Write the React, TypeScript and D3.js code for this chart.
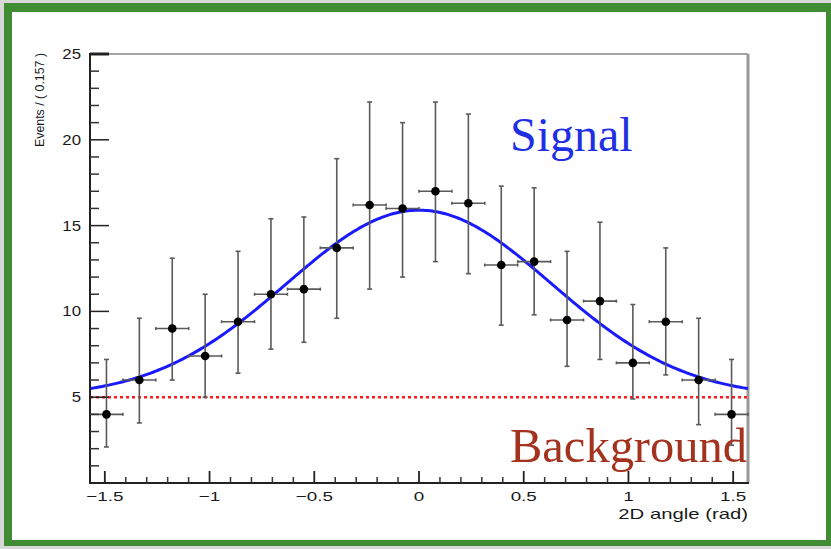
import React from 'react';
import * as d3 from 'd3';

const W = 831;
const H = 549;

// bin contents (20 bins over -pi/2 .. pi/2, width 0.157)
const values = [4.0, 6.0, 9.0, 7.4, 9.4, 11.0, 11.3, 13.7, 16.2, 16.0, 17.0, 16.3, 12.7, 12.9, 9.5, 10.6, 7.0, 9.4, 6.0, 4.0];
const errUpper = [7.2, 9.6, 13.1, 11.0, 13.5, 15.4, 15.5, 18.9, 22.2, 21.0, 22.2, 21.5, 17.3, 17.2, 13.5, 15.2, 10.4, 13.7, 9.6, 7.2];
const errLower = [2.1, 3.5, 6.0, 5.0, 6.4, 7.8, 8.2, 9.6, 11.3, 12.0, 12.9, 12.2, 9.2, 9.8, 6.8, 7.2, 4.9, 6.3, 3.4, 2.2];

const xMajorTicks = [-1.5, -1, -0.5, 0, 0.5, 1, 1.5];
const xTickLabels = ['\u22121.5', '\u22121', '\u22120.5', '0', '0.5', '1', '1.5'];
const yMajorTicks = [5, 10, 15, 20, 25];
const yTickLabels = ['5', '10', '15', '20', '25'];

// fit: flat background + gaussian signal
const bkgLevel = 5;
const sigAmp = 10.9;
const sigMean = 0;
const sigWidth = 0.633;

const xMin = -Math.PI / 2;
const xMax = Math.PI / 2;
const binW = (xMax - xMin) / values.length;

const x = d3.scaleLinear().domain([xMin, xMax]).range([90, 748]);
const y = d3.scaleLinear().domain([0, 25]).range([483, 54]);

const fitFn = (v: number) => bkgLevel + sigAmp * Math.exp(-((v - sigMean) ** 2) / (2 * sigWidth * sigWidth));

export default function App() {
  const centers = values.map((_, i) => xMin + (i + 0.5) * binW);
  const curve = d3
    .line<number>()
    .x((v) => x(v))
    .y((v) => y(fitFn(v)))(d3.range(xMin, xMax + 1e-9, (xMax - xMin) / 300));

  const xMinor = d3.range(-15, 16).map((k) => k / 10).filter((v) => !xMajorTicks.includes(v));
  const yMinor = d3.range(1, 25).filter((v) => v % 5 !== 0);
  const sans = 'Liberation Sans, Arial, sans-serif';
  const serif = 'Liberation Serif, Times New Roman, serif';

  return (
    <svg width={W} height={H} style={{ position: 'absolute', left: 0, top: 0 }}>
      <rect x={0} y={0} width={W} height={H} fill="#d8d8d8" />
      <rect x={4} y={3} width={827} height={543} fill="#3f8c32" />
      <rect x={12} y={12} width={814} height={528} fill="#ffffff" />

      {/* frame */}
      <line x1={90} x2={748} y1={54} y2={54} stroke="#888" strokeWidth={1.5} />
      <line x1={748} x2={748} y1={54} y2={483} stroke="#999" strokeWidth={3} />

      {/* background level */}
      <line x1={x(xMin)} x2={x(xMax)} y1={y(bkgLevel)} y2={y(bkgLevel)} stroke="#ff1a1a" strokeWidth={2.5} strokeDasharray="3,3" />

      {/* fit */}
      <path d={curve || ''} fill="none" stroke="#1a1aff" strokeWidth={3} />

      {/* data points */}
      {values.map((v, i) => {
        const cx = x(centers[i]);
        const cy = y(v);
        const x0 = x(centers[i] - binW / 2);
        const x1 = x(centers[i] + binW / 2);
        const yt = y(errUpper[i]);
        const yb = y(errLower[i]);
        return (
          <g key={i} stroke="#5a5a5a" strokeWidth={1.6}>
            <line x1={cx} x2={cx} y1={yt} y2={yb} />
            <line x1={cx - 2.5} x2={cx + 2.5} y1={yt} y2={yt} />
            <line x1={cx - 2.5} x2={cx + 2.5} y1={yb} y2={yb} />
            <line x1={x0} x2={x1} y1={cy} y2={cy} />
            <line x1={x0} x2={x0} y1={cy - 1.5} y2={cy + 1.5} />
            <line x1={x1} x2={x1} y1={cy - 1.5} y2={cy + 1.5} />
            <circle cx={cx} cy={cy} r={4.3} fill="#000" stroke="none" />
          </g>
        );
      })}

      {/* y axis */}
      <line x1={90} x2={90} y1={53} y2={484} stroke="#222" strokeWidth={2} />
      {yMajorTicks.map((t) => (
        <line key={'ym' + t} x1={90} x2={109} y1={y(t)} y2={y(t)} stroke="#222" strokeWidth={t === 25 ? 3 : 1.5} />
      ))}
      {yMinor.map((t) => (
        <line key={'yn' + t} x1={90} x2={99} y1={y(t)} y2={y(t)} stroke="#333" strokeWidth={1.5} />
      ))}
      {yMajorTicks.map((t, i) => (
        <text key={'yl' + t} transform={`translate(81,${y(t) + 5}) scale(1.2,1)`} textAnchor="end" fontFamily={sans} fontSize={14} fill="#1a1a1a">
          {yTickLabels[i]}
        </text>
      ))}
      <text transform="translate(44,53) rotate(-90)" textAnchor="end" fontFamily={sans} fontSize={13.5} fill="#1a1a1a" textLength={94} lengthAdjust="spacingAndGlyphs">
        Events / ( 0.157 )
      </text>

      {/* x axis */}
      <line x1={89} x2={749} y1={483} y2={483} stroke="#222" strokeWidth={2} />
      {xMajorTicks.map((t) => (
        <line key={'xm' + t} x1={x(t)} x2={x(t)} y1={483} y2={471} stroke="#222" strokeWidth={1.8} />
      ))}
      {xMinor.map((t) => (
        <line key={'xn' + t} x1={x(t)} x2={x(t)} y1={483} y2={477} stroke="#333" strokeWidth={1.5} />
      ))}
      {xMajorTicks.map((t, i) => (
        <text key={'xl' + t} transform={`translate(${x(t)},501) scale(1.45,1)`} textAnchor="middle" fontFamily={sans} fontSize={13} fill="#1a1a1a">
          {xTickLabels[i]}
        </text>
      ))}
      <text transform="translate(748,519) scale(1.45,1)" textAnchor="end" fontFamily={sans} fontSize={14} fill="#1a1a1a">
        2D angle (rad)
      </text>

      {/* annotations */}
      <text x={510} y={151} fontFamily={serif} fontSize={48} fill="#1f2fe3">
        Signal
      </text>
      <text x={510} y={462} fontFamily={serif} fontSize={48} fill="#a3331f" textLength={237} lengthAdjust="spacingAndGlyphs">
        Background
      </text>
    </svg>
  );
}
